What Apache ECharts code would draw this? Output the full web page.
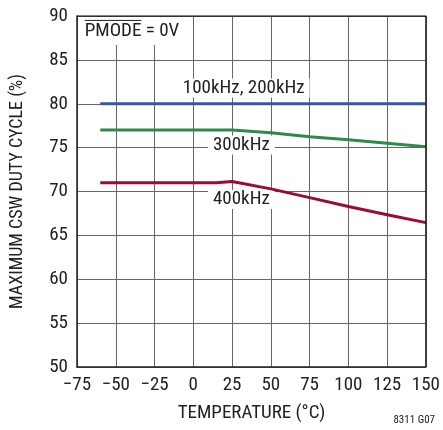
<!DOCTYPE html>
<html>
<head>
<meta charset="utf-8">
<script src="https://cdn.jsdelivr.net/npm/echarts@6/dist/echarts.min.js"></script>
<style>
  html, body { margin: 0; padding: 0; background: #fff; }
  #main { width: 443px; height: 430px; }
</style>
</head>
<body>
<div id="main"></div>
<script>
var myChart = echarts.init(document.getElementById('main'));

var FONT = '"Liberation Sans Narrow", "Roboto Condensed", "Liberation Sans", sans-serif';
var FS = 19;

// temperatures (°C) and duty cycle (%)
var temp_flat = [-60, 150];
var duty_100_200k = [80, 80];

var temp_300k = [-60, 25, 50, 75, 100, 125, 150];
var duty_300k = [77, 77, 76.7, 76.25, 75.9, 75.5, 75.1];

var temp_400k = [-60, 15, 25, 50, 75, 100, 125, 150];
var duty_400k = [71, 71, 71.15, 70.3, 69.3, 68.3, 67.35, 66.45];

// curve labels: [text, temp, duty]
var curve_labels = [
    ['100kHz, 200kHz', 32.5, 81.8],
    ['300kHz', 31, 75.3],
    ['400kHz', 31, 69.1]
];

function pairs(xs, ys) {
    return xs.map(function (x, i) { return [x, ys[i]]; });
}

function minus(v) {
    return String(v).replace('-', '\u2212');
}

function textWidth(s) {
    var ctx = document.createElement('canvas').getContext('2d');
    ctx.font = FS + 'px ' + FONT;
    return ctx.measureText(s).width;
}

option = {
    animation: false,
    backgroundColor: '#fff',
    grid: { left: 77, right: 14, top: 16, bottom: 63 },
    xAxis: {
        type: 'value',
        min: -75, max: 150, interval: 25,
        name: 'TEMPERATURE (°C)',
        nameLocation: 'middle',
        nameGap: 37,
        nameTextStyle: { fontFamily: FONT, fontSize: FS, color: '#222' },
        axisLine: { show: true, onZero: false, lineStyle: { color: '#222', width: 1.5 } },
        axisTick: { show: false },
        axisLabel: { fontFamily: FONT, fontSize: FS, color: '#222', margin: 9,
                     formatter: minus },
        splitLine: { show: true, lineStyle: { color: '#666', width: 1 } }
    },
    yAxis: {
        type: 'value',
        min: 50, max: 90, interval: 5,
        name: 'MAXIMUM CSW DUTY CYCLE (%)',
        nameLocation: 'middle',
        nameGap: 51,
        nameTextStyle: { fontFamily: FONT, fontSize: FS - 1, color: '#222' },
        axisLine: { show: true, onZero: false, lineStyle: { color: '#222', width: 1.5 } },
        axisTick: { show: false },
        axisLabel: { fontFamily: FONT, fontSize: FS, color: '#222', margin: 9 },
        splitLine: { show: true, lineStyle: { color: '#666', width: 1 } }
    },
    series: [
        {
            name: '100kHz, 200kHz', type: 'line', symbol: 'none', z: 3,
            data: pairs(temp_flat, duty_100_200k),
            lineStyle: { color: '#3a56a6', width: 3 }
        },
        {
            name: '300kHz', type: 'line', symbol: 'none', z: 3,
            data: pairs(temp_300k, duty_300k),
            lineStyle: { color: '#2b8a4c', width: 3 }
        },
        {
            name: '400kHz', type: 'line', symbol: 'none', z: 3,
            data: pairs(temp_400k, duty_400k),
            lineStyle: { color: '#990c33', width: 3 }
        },
        // top right border of the plot box
        {
            type: 'line', symbol: 'none', silent: true, z: 4,
            data: [[-75, 90], [150, 90], [150, 50]],
            lineStyle: { color: '#222', width: 1.5 }
        }
    ]
};

myChart.setOption(option);

// labels placed in data coordinates, under the curves but over the grid
var graphics = curve_labels.map(function (lab) {
    var p = myChart.convertToPixel({ gridIndex: 0 }, [lab[1], lab[2]]);
    return {
        type: 'text', x: p[0], y: p[1], z: 1,
        style: {
            text: lab[0], fontFamily: FONT, fontSize: FS, fill: '#222',
            align: 'center', verticalAlign: 'middle',
            backgroundColor: '#fff', padding: [0, 5]
        }
    };
});

var pm = myChart.convertToPixel({ gridIndex: 0 }, [-70, 88.3]);
var wP = textWidth('PMODE');
var wAll = textWidth('PMODE = 0V');
graphics.push({
    type: 'group', x: pm[0], y: pm[1], z: 1,
    children: [
        { type: 'rect', shape: { x: -3, y: -14, width: wAll + 8, height: 28 },
          style: { fill: '#fff' } },
        { type: 'text', x: 0, y: 0,
          style: { text: 'PMODE = 0V', fontFamily: FONT, fontSize: FS, fill: '#222',
                   align: 'left', verticalAlign: 'middle' } },
        { type: 'line', shape: { x1: 0, y1: -10.5, x2: wP, y2: -10.5 },
          style: { stroke: '#222', lineWidth: 1 } }
    ]
});

graphics.push({
    type: 'text', right: 8, bottom: 4,
    style: { text: '8311 G07', fontFamily: FONT, fontSize: 11, fill: '#222' }
});

myChart.setOption({ graphic: graphics });
</script>
</body>
</html>
